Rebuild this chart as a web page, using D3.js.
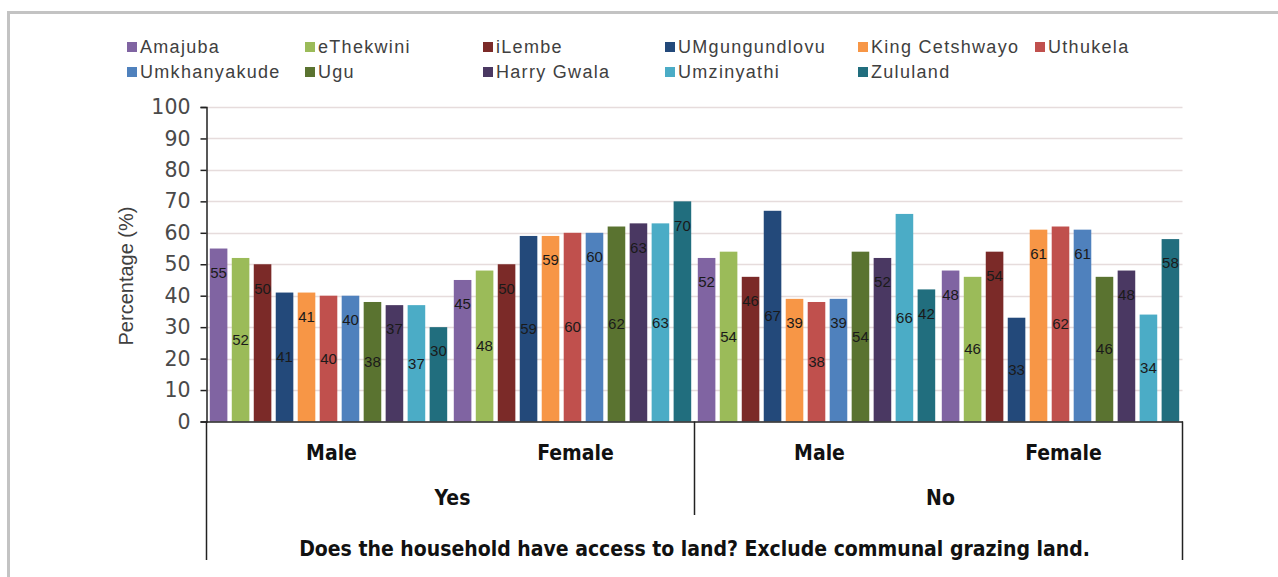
<!DOCTYPE html>
<html>
<head>
<meta charset="utf-8">
<script src="https://cdn.jsdelivr.net/npm/d3@7"></script>
<style>
  html, body { margin: 0; padding: 0; background: #fff; }
  svg { display: block; }
</style>
</head>
<body>
<svg id="chart" width="1278" height="577"></svg>
<script>
// ---- Data ----
const series = ["Amajuba", "eThekwini", "iLembe", "UMgungundlovu", "King Cetshwayo", "Uthukela",
                "Umkhanyakude", "Ugu", "Harry Gwala", "Umzinyathi", "Zululand"];
const colors = ["#8064a2", "#9bbb59", "#7b2a28", "#23497a", "#f79646", "#c0504d",
                "#4f81bd", "#5a7330", "#4a3862", "#4bacc6", "#216e7e"];
const outerGroups = ["Yes", "No"];
const innerGroups = ["Male", "Female"];
const groups = ["Yes|Male", "Yes|Female", "No|Male", "No|Female"];
// values per series, ordered as groups
const amajuba        = [55, 45, 52, 48];
const eThekwini      = [52, 48, 54, 46];
const iLembe         = [50, 50, 46, 54];
const uMgungundlovu  = [41, 59, 67, 33];
const kingCetshwayo  = [41, 59, 39, 61];
const uthukela       = [40, 60, 38, 62];
const umkhanyakude   = [40, 60, 39, 61];
const ugu            = [38, 62, 54, 46];
const harryGwala     = [37, 63, 52, 48];
const umzinyathi     = [37, 63, 66, 34];
const zululand       = [30, 70, 42, 58];
const seriesValues = [amajuba, eThekwini, iLembe, uMgungundlovu, kingCetshwayo, uthukela,
                      umkhanyakude, ugu, harryGwala, umzinyathi, zululand];
const yTicks = [0, 10, 20, 30, 40, 50, 60, 70, 80, 90, 100];
const xTitle = "Does the household have access to land? Exclude communal grazing land.";
const yTitle = "Percentage (%)";

(function draw() {
  const svg = d3.select("#chart");
  const pLeft = 206.5, pRight = 1182.5, pTop = 107, pBottom = 421.5;
  const catFont = "'Liberation Sans Narrow', 'Arial Narrow', 'DejaVu Sans Condensed', sans-serif";

  // frame (left + top gray border)
  svg.append("path").attr("d", "M8.5,577 V12.5 H1278").attr("fill", "none")
    .attr("stroke", "#c3c3c3").attr("stroke-width", 3);

  const y = d3.scaleLinear().domain([0, 100]).range([pBottom, pTop]);
  const x0 = d3.scaleBand().domain(groups).range([pLeft, pRight]).padding(0);
  const x1 = d3.scaleBand().domain(series).range([0, x0.bandwidth()]).paddingInner(0.2).paddingOuter(0.15);

  // gridlines
  svg.append("g").selectAll("line").data(yTicks.filter(d => d > 0)).join("line")
    .attr("x1", pLeft).attr("x2", pRight)
    .attr("y1", d => Math.round(y(d)) + 0.5).attr("y2", d => Math.round(y(d)) + 0.5)
    .attr("stroke", "#e6dcdc").attr("stroke-width", 1.5);

  // bars
  const gBars = svg.append("g");
  series.forEach((s, si) => {
    gBars.append("g").selectAll("rect").data(seriesValues[si]).join("rect")
      .attr("x", (d, gi) => x0(groups[gi]) + x1(s))
      .attr("width", x1.bandwidth())
      .attr("y", d => y(d))
      .attr("height", d => y(0) - y(d))
      .attr("fill", colors[si]);
  });

  // data labels (alternate: inside end / center)
  const gLab = svg.append("g").attr("font-family", "Arial, 'Liberation Sans', sans-serif")
    .attr("font-size", 15).attr("fill", "#1a1a1a").attr("text-anchor", "middle");
  series.forEach((s, si) => {
    gLab.append("g").selectAll("text").data(seriesValues[si]).join("text")
      .attr("x", (d, gi) => x0(groups[gi]) + x1(s) + x1.bandwidth() / 2)
      .attr("y", d => si % 2 === 0 ? y(d) + 24 : (y(d) + y(0)) / 2)
      .attr("dy", "0.35em")
      .text(d => d);
  });

  // y axis
  const yAxis = d3.axisLeft(y).tickValues(yTicks).tickSize(6).tickPadding(10);
  const gy = svg.append("g").attr("transform", `translate(${pLeft},0)`).call(yAxis);
  gy.select(".domain").attr("stroke", "#222").attr("stroke-width", 1.5);
  gy.selectAll(".tick line").attr("stroke", "#222").attr("stroke-width", 1.5);
  gy.selectAll(".tick text").attr("font-family", "'DejaVu Sans', Verdana, sans-serif")
    .attr("font-size", 20.5).attr("fill", "#4a4a4a");

  // x axis baseline
  const xAxis = d3.axisBottom(x0).tickSize(0).tickFormat("");
  const gx = svg.append("g").attr("transform", `translate(0,${pBottom})`).call(xAxis);
  gx.select(".domain").attr("stroke", "#222").attr("stroke-width", 1.5);

  // category table lines
  const lines = svg.append("g").attr("stroke", "#222").attr("stroke-width", 1.5);
  lines.append("line").attr("x1", pLeft).attr("x2", pLeft).attr("y1", pBottom).attr("y2", 560);
  lines.append("line").attr("x1", pRight).attr("x2", pRight).attr("y1", pBottom).attr("y2", 560);
  const midX = x0("No|Male");
  lines.append("line").attr("x1", midX).attr("x2", midX).attr("y1", pBottom).attr("y2", 515);

  // inner category labels
  const gCat = svg.append("g").attr("font-family", catFont).attr("font-weight", "bold")
    .attr("font-size", 21).attr("fill", "#111").attr("text-anchor", "middle");
  gCat.selectAll("text.inner").data(groups).join("text").attr("class", "inner")
    .attr("x", d => x0(d) + x0.bandwidth() / 2 + 3)
    .attr("y", 453).attr("dy", "0.35em")
    .text(d => d.split("|")[1]);
  gCat.selectAll("text.outer").data(outerGroups).join("text").attr("class", "outer")
    .attr("x", d => x0(d + "|Male") + x0.bandwidth() + 2)
    .attr("y", 498).attr("dy", "0.35em")
    .text(d => d);
  gCat.append("text").attr("x", (pLeft + pRight) / 2).attr("y", 549).attr("dy", "0.35em")
    .text(xTitle);

  // y title
  svg.append("text").attr("transform", `translate(126,276) rotate(-90)`)
    .attr("text-anchor", "middle").attr("dy", "0.35em")
    .attr("font-family", "Arial, 'Liberation Sans', sans-serif").attr("font-size", 20)
    .attr("fill", "#404040").text(yTitle);

  // legend
  const legX = [127, 305, 483, 665, 858, 1035];
  const legY = [47, 72];
  const gLeg = svg.append("g").attr("font-family", "Arial, 'Liberation Sans', sans-serif")
    .attr("font-size", 18).attr("letter-spacing", 1.3).attr("fill", "#404040");
  series.forEach((s, i) => {
    const row = i < 6 ? 0 : 1;
    const col = i < 6 ? i : i - 6;
    const g = gLeg.append("g").attr("transform", `translate(${legX[col]},${legY[row]})`);
    g.append("rect").attr("x", 0).attr("y", -5).attr("width", 10).attr("height", 10).attr("fill", colors[i]);
    g.append("text").attr("x", 13).attr("y", 0).attr("dy", "0.35em").text(s);
  });
})();
</script>
</body>
</html>
